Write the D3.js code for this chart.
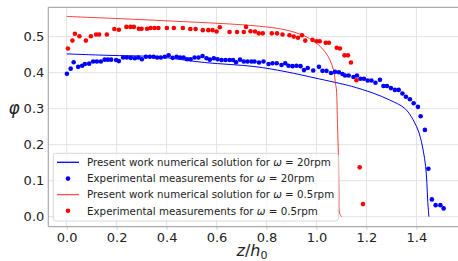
<!DOCTYPE html>
<html>
<head>
<meta charset="utf-8">
<script src="https://cdn.jsdelivr.net/npm/d3@7"></script>
<style>
  body { margin: 0; background: #fff; }
  svg { display: block; font-family: "DejaVu Sans", sans-serif; }
</style>
</head>
<body>
<div id="chart"></div>
<script>
// Numerical solution, omega = 20rpm (z/h0, phi)
const line20 = [
  [0.000, 0.452], [0.165, 0.448], [0.360, 0.444], [0.553, 0.428], [0.750, 0.417],
  [0.874, 0.403], [1.008, 0.383], [1.093, 0.370], [1.141, 0.362], [1.227, 0.343],
  [1.293, 0.324], [1.353, 0.301], [1.387, 0.269], [1.411, 0.232], [1.427, 0.185],
  [1.437, 0.139], [1.442, 0.093], [1.445, 0.046], [1.450, 0.000]
];

// Numerical solution, omega = 0.5rpm
const line05 = [
  [0.000, 0.556], [0.365, 0.545], [0.753, 0.530], [0.874, 0.519], [0.941, 0.505],
  [0.981, 0.491], [1.008, 0.477], [1.034, 0.458], [1.054, 0.435], [1.068, 0.407],
  [1.077, 0.366], [1.080, 0.352], [1.084, 0.259], [1.088, 0.167], [1.090, 0.074],
  [1.093, 0.009], [1.101, 0.000]
];

// Experimental measurements, omega = 20rpm
const exp20 = [
  [0.001, 0.397], [0.016, 0.411], [0.028, 0.429], [0.046, 0.416], [0.062, 0.419],
  [0.073, 0.424], [0.090, 0.425], [0.106, 0.431], [0.121, 0.431], [0.137, 0.431],
  [0.152, 0.436], [0.165, 0.436], [0.178, 0.436], [0.198, 0.435], [0.209, 0.432],
  [0.226, 0.442], [0.241, 0.442], [0.257, 0.441], [0.273, 0.440], [0.287, 0.442],
  [0.301, 0.437], [0.317, 0.444], [0.333, 0.444], [0.348, 0.444], [0.362, 0.442],
  [0.377, 0.442], [0.393, 0.444], [0.408, 0.448], [0.424, 0.441], [0.440, 0.444],
  [0.454, 0.442], [0.468, 0.442], [0.482, 0.437], [0.496, 0.437], [0.512, 0.442],
  [0.528, 0.442], [0.544, 0.446], [0.560, 0.440], [0.573, 0.436], [0.589, 0.440],
  [0.604, 0.437], [0.620, 0.435], [0.636, 0.435], [0.652, 0.435], [0.666, 0.435],
  [0.678, 0.429], [0.694, 0.436], [0.709, 0.431], [0.724, 0.431], [0.740, 0.431],
  [0.752, 0.431], [0.770, 0.428], [0.788, 0.431], [0.808, 0.424], [0.824, 0.426],
  [0.841, 0.426], [0.860, 0.421], [0.875, 0.426], [0.888, 0.419], [0.904, 0.418],
  [0.920, 0.419], [0.936, 0.418], [0.950, 0.407], [0.965, 0.413], [0.987, 0.406],
  [1.010, 0.416], [1.024, 0.405], [1.040, 0.405], [1.058, 0.399], [1.074, 0.402],
  [1.090, 0.401], [1.104, 0.396], [1.114, 0.392], [1.129, 0.392], [1.148, 0.388],
  [1.162, 0.392], [1.176, 0.383], [1.190, 0.383], [1.205, 0.378], [1.220, 0.378],
  [1.236, 0.372], [1.254, 0.380], [1.268, 0.363], [1.282, 0.363], [1.298, 0.357],
  [1.314, 0.352], [1.329, 0.352], [1.344, 0.342], [1.358, 0.333], [1.374, 0.326],
  [1.389, 0.315], [1.406, 0.305], [1.417, 0.279], [1.434, 0.241], [1.448, 0.133],
  [1.462, 0.048], [1.477, 0.032], [1.496, 0.032], [1.509, 0.023]
];

// Experimental measurements, omega = 0.5rpm
const exp05 = [
  [0.005, 0.467], [0.023, 0.489], [0.033, 0.508], [0.051, 0.501], [0.077, 0.489],
  [0.097, 0.501], [0.118, 0.506], [0.130, 0.506], [0.161, 0.506], [0.191, 0.521],
  [0.209, 0.519], [0.239, 0.527], [0.255, 0.527], [0.269, 0.527], [0.289, 0.522],
  [0.300, 0.522], [0.322, 0.522], [0.336, 0.524], [0.352, 0.524], [0.367, 0.524],
  [0.401, 0.524], [0.429, 0.524], [0.465, 0.524], [0.495, 0.521], [0.516, 0.521],
  [0.545, 0.518], [0.567, 0.518], [0.584, 0.518], [0.600, 0.514], [0.613, 0.526],
  [0.652, 0.513], [0.682, 0.513], [0.709, 0.513], [0.718, 0.527], [0.736, 0.515],
  [0.754, 0.514], [0.769, 0.509], [0.785, 0.509], [0.821, 0.509], [0.842, 0.509],
  [0.864, 0.506], [0.892, 0.504], [0.909, 0.500], [0.926, 0.497], [0.942, 0.504],
  [0.955, 0.489], [0.984, 0.491], [1.000, 0.487], [1.013, 0.487], [1.037, 0.483],
  [1.050, 0.483], [1.081, 0.469], [1.094, 0.467], [1.112, 0.448], [1.126, 0.448],
  [1.138, 0.428], [1.160, 0.379], [1.173, 0.137], [1.186, 0.035]
];

const xTicks = [0.0, 0.2, 0.4, 0.6, 0.8, 1.0, 1.2, 1.4];
const yTicks = [0.0, 0.1, 0.2, 0.3, 0.4, 0.5];

const legendItems = [
  { type: 'line', color: 'blue', alpha: 1, label: 'Present work numerical solution for ', rpm: '20rpm' },
  { type: 'dot', color: 'blue', alpha: 1, label: 'Experimental measurements for ', rpm: '20rpm' },
  { type: 'line', color: 'red', alpha: 0.7, label: 'Present work numerical solution for ', rpm: '0.5rpm' },
  { type: 'dot', color: 'red', alpha: 1, label: 'Experimental measurements for ', rpm: '0.5rpm' }
];

const W = 458, H = 261;
const plotL = 48.3, plotT = 7.3, plotB = 226.7, plotR = 463;

const svg = d3.select('#chart').append('svg')
  .attr('width', W)
  .attr('height', H);

const x = d3.scaleLinear().domain([-0.0735, 1.5865]).range([plotL, plotR]);
const y = d3.scaleLinear().domain([-0.0278, 0.5814]).range([plotB, plotT]);

// grid
svg.append('g')
  .selectAll('line')
  .data(xTicks)
  .join('line')
    .attr('x1', d => x(d)).attr('x2', d => x(d))
    .attr('y1', plotT).attr('y2', plotB)
    .attr('stroke', '#e3e3e3').attr('stroke-width', 1);

svg.append('g')
  .selectAll('line')
  .data(yTicks)
  .join('line')
    .attr('x1', plotL).attr('x2', W)
    .attr('y1', d => y(d)).attr('y2', d => y(d))
    .attr('stroke', '#e3e3e3').attr('stroke-width', 1);

// axes
const xAxis = svg.append('g')
  .attr('transform', `translate(0,${plotB})`)
  .call(d3.axisBottom(x).tickValues(xTicks).tickFormat(d3.format('.1f')).tickSize(3).tickPadding(3).tickSizeOuter(0));
const yAxis = svg.append('g')
  .attr('transform', `translate(${plotL},0)`)
  .call(d3.axisLeft(y).tickValues(yTicks).tickFormat(d3.format('.1f')).tickSize(0).tickPadding(4).tickSizeOuter(0));

[xAxis, yAxis].forEach(a => {
  a.select('.domain').remove();
  a.selectAll('.tick line').attr('stroke', '#ccc');
  a.selectAll('.tick text')
    .attr('fill', '#222')
    .style('font-size', '13px')
    .style('font-family', '"DejaVu Sans", sans-serif');
});

// spines
svg.append('line').attr('x1', plotL).attr('x2', plotL).attr('y1', plotT).attr('y2', plotB)
  .attr('stroke', '#aaa').attr('stroke-width', 1.2);
svg.append('line').attr('x1', plotL).attr('x2', W).attr('y1', plotB).attr('y2', plotB)
  .attr('stroke', '#aaa').attr('stroke-width', 1.2);
svg.append('line').attr('x1', plotL).attr('x2', W).attr('y1', plotT).attr('y2', plotT)
  .attr('stroke', '#aaa').attr('stroke-width', 1.2);

// curves
const lineGen = d3.line()
  .x(d => x(d[0]))
  .y(d => y(d[1]))
  .curve(d3.curveCatmullRom.alpha(0.5));

svg.append('path')
  .datum(line20)
  .attr('d', lineGen)
  .attr('fill', 'none')
  .attr('stroke', 'blue')
  .attr('stroke-width', 1);

svg.append('path')
  .datum(line05)
  .attr('d', lineGen)
  .attr('fill', 'none')
  .attr('stroke', 'red')
  .attr('stroke-opacity', 0.75)
  .attr('stroke-width', 1);

// dots
svg.append('g')
  .selectAll('circle')
  .data(exp20)
  .join('circle')
    .attr('cx', d => x(d[0]))
    .attr('cy', d => y(d[1]))
    .attr('r', 2.3)
    .attr('fill', 'blue');

svg.append('g')
  .selectAll('circle')
  .data(exp05)
  .join('circle')
    .attr('cx', d => x(d[0]))
    .attr('cy', d => y(d[1]))
    .attr('r', 2.3)
    .attr('fill', 'red');

// legend
const lg = svg.append('g');
lg.append('rect')
  .attr('x', 53.3).attr('y', 153.3)
  .attr('width', 285).attr('height', 67.7)
  .attr('rx', 2.5)
  .attr('fill', 'white').attr('fill-opacity', 0.8)
  .attr('stroke', '#d8d8d8').attr('stroke-width', 1);

const rowY = [162.3, 178.6, 194.6, 210.8];
legendItems.forEach((d, i) => {
  const ry = rowY[i];
  if (d.type === 'line') {
    lg.append('line')
      .attr('x1', 57).attr('x2', 79).attr('y1', ry).attr('y2', ry)
      .attr('stroke', d.color).attr('stroke-opacity', d.alpha).attr('stroke-width', 1.3);
  } else {
    lg.append('circle').attr('cx', 68).attr('cy', ry).attr('r', 2.3).attr('fill', d.color);
  }
  const t = lg.append('text')
    .attr('x', 87).attr('y', ry + 3.8)
    .attr('fill', '#222')
    .style('font-size', '10.3px');
  t.append('tspan').text(d.label);
  t.append('tspan').style('font-style', 'italic').text('ω');
  t.append('tspan').text(' = ' + d.rpm);
});

// axis labels
svg.append('text')
  .attr('x', 14).attr('y', 114)
  .attr('text-anchor', 'middle')
  .style('font-size', '17px')
  .style('font-style', 'italic')
  .attr('fill', '#222')
  .text('φ');

const xl = svg.append('text')
  .attr('x', 252).attr('y', 255.5)
  .attr('text-anchor', 'middle')
  .style('font-size', '16px')
  .attr('fill', '#222');
xl.append('tspan').style('font-style', 'italic').text('z');
xl.append('tspan').text('/');
xl.append('tspan').style('font-style', 'italic').text('h');
xl.append('tspan').attr('dy', 3).style('font-size', '11px').text('0');
</script>
</body>
</html>
